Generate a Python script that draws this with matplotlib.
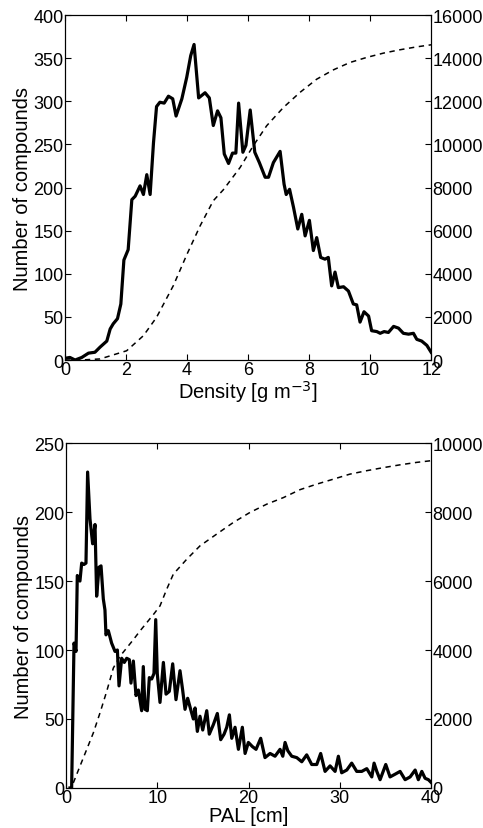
import matplotlib
matplotlib.use("Agg")
import matplotlib.pyplot as plt

plt.rcParams["font.family"] = ["Liberation Sans", "DejaVu Sans"]
plt.rcParams["font.size"] = 13

# --- top panel: density histogram (counts per bin) and cumulative count
dens_x = [0, 0.16, 0.33, 0.55, 0.77, 0.98, 1.15, 1.37, 1.48, 1.58, 1.72, 1.83, 1.93,
          2.07, 2.19, 2.3, 2.46, 2.57, 2.68, 2.79, 2.9, 3.0, 3.11, 3.25, 3.39, 3.53,
          3.64, 3.83, 3.99, 4.12, 4.23, 4.38, 4.59, 4.73, 4.86, 5.0, 5.11, 5.22, 5.36,
          5.49, 5.6, 5.69, 5.83, 5.93, 6.07, 6.22, 6.37, 6.56, 6.67, 6.83, 7.05, 7.18,
          7.25, 7.36, 7.49, 7.63, 7.76, 7.87, 8.01, 8.14, 8.25, 8.38, 8.52, 8.63, 8.74,
          8.85, 8.96, 9.13, 9.29, 9.45, 9.56, 9.67, 9.8, 9.95, 10.05, 10.22, 10.33,
          10.46, 10.6, 10.77, 10.93, 11.09, 11.26, 11.42, 11.53, 11.69, 11.86, 12.0]
dens_n = [2, 3, 0, 3, 8, 9, 15, 22, 36, 42, 48, 65, 116,
          128, 186, 190, 202, 192, 215, 192, 252, 294, 299, 298, 306, 303,
          283, 303, 328, 353, 366, 304, 310, 304, 272, 289, 281, 239, 228,
          240, 240, 298, 241, 249, 290, 241, 229, 212, 212, 229, 242, 204,
          192, 198, 177, 152, 169, 144, 162, 127, 142, 119, 117, 119, 86,
          102, 84, 85, 80, 65, 64, 44, 56, 51, 34, 33, 31,
          33, 32, 39, 37, 31, 30, 31, 24, 22, 17, 9]
dens_cx = [0, 0.5, 1.15, 2.02, 2.57, 3.0, 3.55, 4.0, 4.43, 4.86, 5.19, 5.74, 6.17,
           6.61, 7.16, 7.7, 8.25, 8.8, 9.34, 9.89, 10.44, 10.98, 11.53, 12.0]
dens_cum = [0, 0, 50, 430, 1130, 1980, 3450, 4915, 6230, 7390, 7900, 8935, 9940,
            10870, 11720, 12415, 13030, 13465, 13805, 14040, 14240, 14395, 14530, 14625]

# --- bottom panel: PAL histogram and cumulative count
pal_x = [0.44, 0.62, 0.88, 1.1, 1.24, 1.53, 1.72, 1.97, 2.19, 2.37, 2.63, 2.92, 3.18,
         3.36, 3.62, 3.84, 4.09, 4.27, 4.38, 4.64, 5.0, 5.37, 5.63, 5.81, 6.1, 6.39,
         6.65, 6.94, 7.12, 7.38, 7.67, 7.93, 8.29, 8.47, 8.66, 8.91, 9.13, 9.39, 9.64,
         9.83, 10.0, 10.3, 10.67, 10.96, 11.32, 11.69, 12.05, 12.49, 12.78, 13.04,
         13.33, 13.66, 13.95, 14.14, 14.39, 14.68, 14.98, 15.42, 15.7, 16.15, 16.58,
         16.95, 17.32, 17.61, 17.9, 18.16, 18.52, 18.89, 19.32, 19.62, 19.98, 20.42,
         20.82, 21.33, 21.8, 22.36, 22.9, 23.45, 23.75, 24.0, 24.3, 24.73, 25.28,
         25.83, 26.37, 26.92, 27.47, 27.9, 28.38, 28.93, 29.48, 29.84, 30.2, 30.76,
         31.3, 31.85, 32.4, 32.95, 33.5, 33.75, 34.05, 34.41, 35.03, 35.5, 36.06,
         36.6, 37.15, 37.7, 38.25, 38.6, 38.98, 39.34, 39.7, 40.0]
pal_n = [0, 0, 105, 99, 154, 150, 163, 162, 163, 229, 195, 177, 191,
         139, 160, 161, 137, 129, 111, 114, 105, 99, 100, 74, 94, 91,
         94, 93, 76, 92, 67, 71, 56, 88, 57, 56, 80, 79, 83,
         122, 83, 62, 91, 68, 70, 90, 64, 85, 71, 57,
         65, 57, 50, 58, 41, 52, 42, 56, 39, 46, 54,
         35, 39, 44, 53, 36, 44, 28, 44, 25, 33, 30,
         28, 36, 22, 25, 23, 28, 23, 33, 27, 23, 22,
         19, 24, 17, 17, 25, 12, 16, 12, 23, 11, 13,
         18, 12, 12, 14, 8, 18, 12, 6, 17, 8, 10,
         12, 6, 8, 13, 6, 12, 7, 6, 4]
pal_cx = [0.8, 1.53, 2.26, 3.0, 3.73, 4.46, 5.19, 5.92, 6.65, 7.38, 8.1, 8.84, 9.64,
          10.3, 11.03, 11.76, 13.22, 14.68, 16.5, 18.34, 20.16, 22.0, 23.82, 25.64,
          27.47, 29.3, 31.1, 32.95, 34.8, 36.6, 38.4, 40.0]
pal_cum = [145, 630, 1110, 1600, 2180, 2800, 3480, 3820, 4060, 4300, 4550, 4790, 5050,
           5280, 5760, 6200, 6630, 7020, 7360, 7700, 7990, 8230, 8420, 8650,
           8810, 8955, 9100, 9200, 9290, 9370, 9440, 9490]

fig = plt.figure(figsize=(4.83, 8.29), dpi=100)


def panel(rect, x, n, cx, cum, xlim, ylim, y2lim, xticks, yticks, y2ticks, xlabel):
    ax = fig.add_axes(rect)
    ax.plot(x, n, color="black", lw=2.3)
    ax.set_xlim(*xlim)
    ax.set_ylim(*ylim)
    ax.set_xticks(xticks)
    ax.set_yticks(yticks)
    ax.tick_params(direction="in", length=4, width=0.8, top=True, right=False, pad=1)
    ax.set_xlabel(xlabel, fontsize=14.5, labelpad=0)
    ax.set_ylabel("Number of compounds", fontsize=14.5, labelpad=1)
    ax2 = ax.twinx()
    ax2.plot(cx, cum, color="black", lw=1.1, ls=(0, (3.5, 3)))
    ax2.set_ylim(*y2lim)
    ax2.set_yticks(y2ticks)
    ax2.tick_params(direction="in", length=4, width=0.8, pad=1)
    return ax, ax2


panel([0.1346, 0.5645, 0.758, 0.416], dens_x, dens_n, dens_cx, dens_cum,
      (0, 12), (0, 400), (0, 16000), range(0, 13, 2), range(0, 401, 50),
      range(0, 16001, 2000), "Density [g m$^{-3}$]")
panel([0.1366, 0.0483, 0.756, 0.416], pal_x, pal_n, pal_cx, pal_cum,
      (0, 40), (0, 250), (0, 10000), range(0, 41, 10), range(0, 251, 50),
      range(0, 10001, 2000), "PAL [cm]")

fig.savefig("out.png", dpi=100)
